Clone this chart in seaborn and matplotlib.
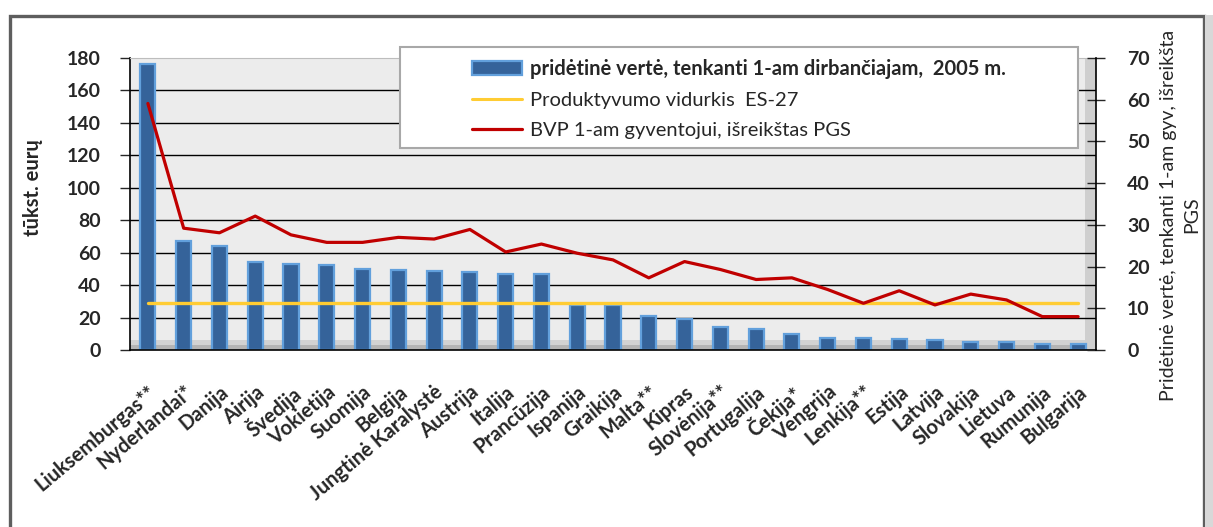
import numpy as np
import matplotlib
matplotlib.use('Agg')
import matplotlib.pyplot as plt
from matplotlib.patches import Rectangle, Patch
from matplotlib.lines import Line2D
import seaborn as sns

# Data
countries = ['Liuksemburgas**', 'Nyderlandai*', 'Danija', 'Airija', 'Švedija', 'Vokietija',
             'Suomija', 'Belgija', 'Jungtinė Karalystė', 'Austrija', 'Italija', 'Prancūzija',
             'Ispanija', 'Graikija', 'Malta**', 'Kipras', 'Slovėnija**', 'Portugalija',
             'Čekija*', 'Vengrija', 'Lenkija**', 'Estija', 'Latvija', 'Slovakija', 'Lietuva',
             'Rumunija', 'Bulgarija']
value_added = [176, 67, 64.3, 54, 53.2, 52.2, 49.7, 49.1, 48.9, 48.3, 46.6, 46.6,
               27.7, 27.7, 21, 19.3, 14, 12.7, 9.9, 7.6, 7.6, 6.6, 6, 5.1, 5.1, 3.5, 3.5]
gdp_pps = [59.1, 29.2, 28.1, 32.1, 27.6, 25.8, 25.8, 27.0, 26.6, 28.9, 23.5, 25.4,
           23.2, 21.6, 17.3, 21.2, 19.3, 16.9, 17.3, 14.5, 11.2, 14.2, 10.8, 13.4, 12.0, 8.0, 8.0]
es27_avg = 29.0

bar_label = 'pridėtinė vertė, tenkanti 1-am dirbančiajam,  2005 m.'
avg_label = 'Produktyvumo vidurkis  ES-27'
gdp_label = 'BVP 1-am gyventojui, išreikštas PGS'
left_ylabel = 'tūkst. eurų'
right_ylabel = 'Pridėtinė vertė, tenkanti 1-am gyv, išreikšta\nPGS'

sns.set_style('white')
plt.rcParams['font.family'] = ['Lato', 'DejaVu Sans']

W, H = 1213, 527
fig = plt.figure(figsize=(W / 100, H / 100), dpi=100)
ax = fig.add_axes([130 / W, 1 - 350 / H, (1096 - 130) / W, (350 - 58) / H])
ax.set_facecolor('#ececec')

n = len(countries)
pos = np.arange(n)

# floor / side wall shading
ax.axhspan(0, 3, color='#b4b4b4', zorder=0.3, lw=0)
ax.axhspan(3, 6, color='#d2d2d2', zorder=0.3, lw=0)
ax.axvspan(26.2, 26.5, color='#cfcfcf', zorder=0.3, lw=0)

sns.barplot(x=countries, y=value_added, ax=ax, color='#35639a', saturation=1,
            width=0.42, edgecolor='#62a0dc', linewidth=1.6, zorder=2)
sns.lineplot(x=pos, y=[es27_avg] * n, ax=ax, color='#ffcc33', linewidth=2.4, zorder=3)

ax.set_xlim(-0.5, n - 0.5)
ax.set_ylim(0, 180)
ax.set_yticks(np.arange(0, 181, 20))
ax.yaxis.grid(True, color='black', linewidth=1.0)
ax.set_axisbelow(True)
gl = ax.get_ygridlines()
gl[0].set_visible(False)
gl[-1].set_visible(False)
ax.set_ylabel('')
ax.set_xlabel('')

ax.set_xticks(pos)
ax.set_xticklabels(countries, rotation=40, ha='right', rotation_mode='anchor',
                   fontsize=14.5, fontweight='bold')
ax.tick_params(axis='x', which='major', length=0, pad=23)
ax.set_xticks(np.arange(-0.5, n, 1), minor=True)
ax.tick_params(axis='x', which='minor', length=6, width=1, color='black', direction='out')
ax.tick_params(axis='y', length=7, width=1, direction='out', pad=14, labelsize=14)
for t in ax.get_yticklabels():
    t.set_fontweight('bold')

for s in ['left', 'bottom']:
    ax.spines[s].set_color('black')
    ax.spines[s].set_linewidth(1.2)
ax.spines['top'].set_color('#bdbdbd')
ax.spines['right'].set_visible(False)

ax2 = ax.twinx()
sns.lineplot(x=pos, y=gdp_pps, ax=ax2, color='#c00000', linewidth=2.3, zorder=4)
ax2.set_ylim(0, 70)
ax2.set_yticks(np.arange(0, 71, 10))
ax2.set_ylabel('')
ax2.tick_params(axis='y', length=13, width=1, direction='inout', pad=16, labelsize=14)
for t in ax2.get_yticklabels():
    t.set_fontweight('bold')
for s in ['left', 'top', 'bottom']:
    ax2.spines[s].set_visible(False)
ax2.spines['right'].set_color('black')
ax2.spines['right'].set_linewidth(1.2)

fig.text(33 / W, 1 - 188 / H, left_ylabel, rotation=90, ha='center', va='center',
         fontsize=14.5, fontweight='bold')
fig.text(1180 / W, 1 - 215 / H, right_ylabel, rotation=90, ha='center', va='center',
         fontsize=14, multialignment='center', linespacing=1.45)

# legend box
fig.patches.append(Rectangle((400 / W, 1 - 148 / H), 678 / W, 101 / H, transform=fig.transFigure,
                             facecolor='white', edgecolor='#a8a8a8', linewidth=1.5, zorder=5))
handles = [Patch(facecolor='#35639a', edgecolor='#62a0dc', linewidth=1.6),
           Line2D([], [], color='#ffcc33', linewidth=2.2),
           Line2D([], [], color='#c00000', linewidth=2.3)]
leg = fig.legend(handles, [bar_label, avg_label, gdp_label], loc='upper left',
                 bbox_to_anchor=(458 / W, 1 - 45 / H), frameon=False, fontsize=14.5,
                 handlelength=2.5, handletextpad=0.4, labelspacing=0.65, borderpad=0.2)
leg.set_zorder(6)
leg.get_texts()[0].set_fontweight('bold')

# outer chart frame
fig.patches.append(Rectangle((10 / W, -0.1), 1194 / W, 1.1 - 15.5 / H, transform=fig.transFigure,
                             facecolor='none', edgecolor='#5e5e5e', linewidth=2.4, zorder=0))
fig.patches.append(Rectangle((1205 / W, -0.1), 8 / W, 1.1 - 15 / H, transform=fig.transFigure,
                             facecolor='#d8d8d8', edgecolor='none', zorder=0))

fig.savefig('out.png', dpi=100)
